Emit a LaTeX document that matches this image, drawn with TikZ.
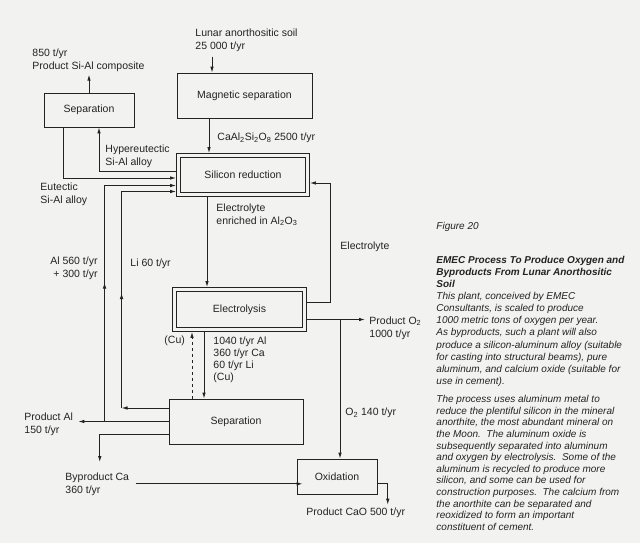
\documentclass[tikz,border=0pt]{standalone}
\usepackage{fontspec}
\setmainfont{Liberation Sans}
\usetikzlibrary{arrows.meta, positioning, decorations.markings}
\definecolor{paper}{RGB}{242,242,240}
\definecolor{ink}{RGB}{35,35,35}

\begin{document}
\begin{tikzpicture}[
  x=1pt, y=-1pt,
  font=\fontsize{10.5}{13}\selectfont,
  line width=0.9pt, draw=ink, text=ink,
  procbox/.style={rectangle, draw=ink, inner sep=0pt},
  lbl/.style={inner sep=0pt, align=left},
  capt/.style={lbl, font=\fontsize{10}{12.1}\selectfont\itshape},
  arrow/.style={-{Latex[length=6pt,width=3.6pt]}, draw=ink},
  midarrow/.style={postaction={decorate}, decoration={markings,
    mark=at position #1 with {\arrow{Latex[length=6pt,width=3.6pt]}}}}
]
\fill[paper] (0,0) rectangle (640,543);
\useasboundingbox (0,0) rectangle (640,543);

% process boxes
\node[procbox, minimum width=135pt, minimum height=45pt] (magsep) at (244.5,95.5) {Magnetic separation};
\node[procbox, minimum width=90pt, minimum height=34pt] (sepsi) at (89,110) {Separation};
\node[procbox, minimum width=133pt, minimum height=43pt] (silred) at (243,175) {Silicon reduction};
\node[procbox, minimum width=134pt, minimum height=44pt] (electro) at (239.5,309.5) {Electrolysis};
\node[procbox, minimum width=134pt, minimum height=45pt] (sepmet) at (236,421.5) {Separation};
\node[procbox, minimum width=80pt, minimum height=35pt] (oxid) at (337,476.5) {Oxidation};

% inner frame of the reactor boxes
\foreach \b in {silred, electro}
  \draw ([shift={(4.5pt,-4.5pt)}]\b.north west) rectangle ([shift={(-4.5pt,4.5pt)}]\b.south east);

% stream labels
\node[lbl, anchor=north west] (soil) at (195,28) {Lunar anorthositic soil\\25 000 t/yr};
\node[lbl, anchor=north west] (sicomp) at (32,48) {850 t/yr\\Product Si-Al composite};
\node[lbl, anchor=west] (caal) at (217,138) {CaAl\textsubscript{2}Si\textsubscript{2}O\textsubscript{8} 2500 t/yr};
\node[lbl, anchor=north west] (hyper) at (105,144) {Hypereutectic\\Si-Al alloy};
\node[lbl, anchor=north west] (eutec) at (40,182) {Eutectic\\Si-Al alloy};
\node[lbl, anchor=north east, align=right] (alrec) at (98,256) {Al 560 t/yr\\+ 300 t/yr};
\node[lbl, anchor=west] (lirec) at (130,264) {Li 60 t/yr};
\node[lbl, anchor=north west] (enrich) at (216,203) {Electrolyte\\enriched in Al\textsubscript{2}O\textsubscript{3}};
\node[lbl, anchor=west] (electrolyte) at (340,247) {Electrolyte};
\node[lbl, anchor=west] (cuback) at (164,341) {(Cu)};
\node[lbl, anchor=north west, font=\fontsize{10.5}{12.3}\selectfont] (metals) at (213,336) {1040 t/yr Al\\360 t/yr Ca\\60 t/yr Li\\(Cu)};
\node[lbl, anchor=north west] (prodoxy) at (369,316) {Product O\textsubscript{2}\\1000 t/yr};
\node[lbl, anchor=west] (oxyfeed) at (345,413) {O\textsubscript{2} 140 t/yr};
\node[lbl, anchor=north west] (prodal) at (24,412) {Product Al\\150 t/yr};
\node[lbl, anchor=north west] (byca) at (65,472) {Byproduct Ca\\360 t/yr};
\node[lbl, anchor=west] (prodcao) at (306,513) {Product CaO 500 t/yr};

% caption column
\node[capt, anchor=west] (fig) at (436,227) {Figure 20};
\node[capt, anchor=north west, font=\fontsize{10}{11.7}\selectfont\bfseries\itshape] (title) at (436,256)
  {EMEC Process To Produce Oxygen and\\Byproducts From Lunar Anorthositic\\Soil};
\node[capt, anchor=north west] (para1) at (436,292)
  {This plant, conceived by EMEC\\Consultants, is scaled to produce\\1000 metric tons of oxygen per year.\\
   As byproducts, such a plant will also\\produce a silicon-aluminum alloy (suitable\\
   for casting into structural beams), pure\\aluminum, and calcium oxide (suitable for\\use in cement).};
\node[capt, anchor=north west, font=\fontsize{10}{11.6}\selectfont\itshape] (para2) at (436,395)
  {The process uses aluminum metal to\\reduce the plentiful silicon in the mineral\\
   anorthite, the most abundant mineral on\\the Moon.\ \ The aluminum oxide is\\
   subsequently separated into aluminum\\and oxygen by electrolysis.\ \ Some of the\\
   aluminum is recycled to produce more\\silicon, and some can be used for\\
   construction purposes.\ \ The calcium from\\the anorthite can be separated and\\
   reoxidized to form an important\\constituent of cement.};

% helper points
\coordinate (feedin) at ([xshift=-32.5pt]magsep.north);
\coordinate (alup) at ([xshift=-64pt]sepmet.west);
\coordinate (liturn) at ([xshift=-47pt, yshift=13.5pt]sepmet.west);
\coordinate (retup) at ([xshift=20pt, yshift=-8pt]silred.east);
\coordinate (o2split) at ([xshift=3pt, yshift=-10pt]electro.east -| oxid.north);

% connectors
\draw[arrow] ([yshift=-5pt]soil.south -| feedin) -- (feedin);
\draw[arrow] (sepsi.north) -- ([yshift=-3pt]sepsi.north |- sicomp.south);
\draw[arrow] ([xshift=-35.5pt]magsep.south) -- ([xshift=-35.5pt]magsep.south |- silred.north);
\draw[arrow] ([yshift=4pt]silred.west) -| ([xshift=10pt]sepsi.south);
\draw[arrow] ([xshift=-26pt]sepsi.south) |- ([yshift=-3pt]silred.west);
\draw[arrow, midarrow=139pt] (alup) |- ([yshift=-10.5pt]silred.west);
\draw[arrow] ([yshift=13.5pt]sepmet.west) -- (liturn);
\draw[arrow, midarrow=115pt] (liturn) |- ([yshift=-16.5pt]silred.west);
\draw[arrow] (sepmet.west) -- ([xshift=5pt]sepmet.west -| prodal.east);
\draw[arrow] ([yshift=-12.5pt]sepmet.west) -| ([xshift=2.5pt, yshift=10pt]byca.north);
\draw[arrow] ([xshift=6pt]byca.east) -- ([xshift=6pt]byca.east -| oxid.west);
\draw[arrow] ([xshift=-36pt]silred.south) -- ([xshift=-36pt]silred.south |- electro.north);
\draw[arrow] ([xshift=-35.5pt]electro.south) -- ([xshift=-35.5pt]electro.south |- sepmet.north);
\draw[arrow, dashed] ([xshift=-47.5pt]electro.south |- sepmet.north) -- ([xshift=-47.5pt]electro.south);
\draw[arrow] ([yshift=7pt]electro.east) -| (retup) -- ([yshift=-8pt]silred.east);
\draw[arrow] ([yshift=-10pt]electro.east) -- ([xshift=-4pt, yshift=-10pt]electro.east -| prodoxy.west);
\draw[arrow] (o2split) -- (o2split |- oxid.north);
\draw[arrow] ([yshift=-6.5pt]oxid.east) -| ([xshift=32pt, yshift=3pt]prodcao.north);

\end{tikzpicture}
\end{document}
